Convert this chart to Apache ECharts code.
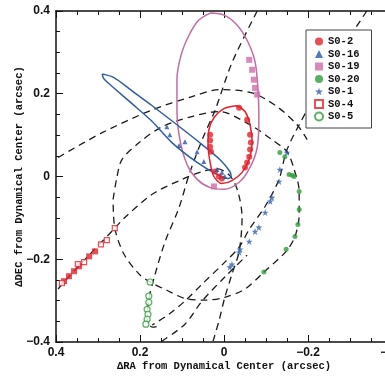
<!DOCTYPE html>
<html>
<head>
<meta charset="utf-8">
<script src="https://cdn.jsdelivr.net/npm/echarts/dist/echarts.min.js"></script>
<style>
  html, body { margin: 0; padding: 0; background: #fff; }
  #chart { width: 385px; height: 376px; }
</style>
</head>
<body>
<div id="chart"></div>
<script>
// 数据 => [ΔRA, ΔDEC] (arcsec)
// 观测点
const s02Points = [[-0.036, 0.166], [-0.055, 0.137], [-0.062, 0.101], [-0.064, 0.082], [-0.062, 0.065], [-0.060, 0.048], [-0.055, 0.034], [-0.050, 0.022], [0.033, 0.101], [0.033, 0.087], [0.033, 0.072], [0.031, 0.060], [0.021, 0.012], [0.012, 0], [0.005, -0.005]]
const s016Points = [[0.136, 0.120], [0.129, 0.101], [0.107, 0.075], [0.093, 0.084], [0.064, 0.060], [0.048, 0.036], [0.017, 0.017], [0.005, 0.010], [-0.002, 0]]
const s019Points = [[-0.060, 0.282], [-0.067, 0.258], [-0.071, 0.234], [-0.074, 0.214], [-0.079, 0.198], [0.024, -0.024]]
const s020Points = [[-0.133, 0.058], [-0.145, 0.048], [-0.155, 0.005], [-0.162, 0.003], [-0.167, 0], [-0.179, -0.036], [-0.179, -0.080], [-0.176, -0.116], [-0.169, -0.145], [-0.148, -0.176], [-0.095, -0.231]]
const s01Points = [[-0.150, 0.058], [-0.133, 0.017], [-0.131, -0.012], [-0.114, -0.051], [-0.110, -0.060], [-0.098, -0.087], [-0.083, -0.123], [-0.074, -0.133], [-0.060, -0.157], [-0.038, -0.176], [-0.036, -0.183], [-0.019, -0.212], [-0.014, -0.219]]
const s04Points = [[0.260, -0.125], [0.279, -0.154], [0.293, -0.164], [0.333, -0.207], [0.348, -0.212], [0.386, -0.258]]
const s04EarlyPoints = [[0.307, -0.181], [0.321, -0.193], [0.345, -0.217], [0.357, -0.229], [0.369, -0.241], [0.381, -0.253]]
const s05Points = [[0.176, -0.255], [0.179, -0.289], [0.179, -0.304], [0.183, -0.321], [0.181, -0.333], [0.183, -0.345], [0.186, -0.357]]

// 轨道 (实线)
const s02Orbit = [[-0.031, 0.171], [-0.050, 0.157], [-0.062, 0.125], [-0.067, 0.082], [-0.060, 0.041], [-0.043, 0.010], [-0.019, -0.010], [0.005, -0.017], [0.024, 0], [0.033, 0.034], [0.038, 0.077], [0.036, 0.113], [0.024, 0.142], [0, 0.164], [-0.031, 0.171]]
const s016Orbit = [[0.290, 0.248], [0.262, 0.239], [0.219, 0.207], [0.171, 0.171], [0.112, 0.125], [0.052, 0.077], [0.010, 0.041], [-0.014, 0.012], [-0.017, 0], [-0.010, -0.005], [0.017, 0.005], [0.064, 0.034], [0.124, 0.082], [0.171, 0.133], [0.219, 0.176], [0.262, 0.214], [0.286, 0.236], [0.290, 0.248]]
const s019Orbit = [[0.033, 0.395], [0, 0.390], [-0.031, 0.366], [-0.057, 0.325], [-0.074, 0.277], [-0.081, 0.210], [-0.083, 0.137], [-0.079, 0.070], [-0.062, 0.022], [-0.036, -0.014], [0, -0.031], [0.033, -0.027], [0.064, -0.007], [0.088, 0.029], [0.105, 0.089], [0.112, 0.161], [0.112, 0.234], [0.102, 0.294], [0.083, 0.342], [0.060, 0.378], [0.033, 0.395]]

// 轨道 (虚线)
const dashCircle = [[0.264, -0.055], [0.255, -0.002], [0.243, 0.041], [0.202, 0.082], [0.148, 0.120], [0.076, 0.145], [0.012, 0.157], [-0.062, 0.125], [-0.114, 0.089], [-0.150, 0.060], [-0.167, 0.017], [-0.179, -0.036], [-0.179, -0.092], [-0.169, -0.145], [-0.148, -0.181], [-0.095, -0.231], [-0.050, -0.272], [-0.002, -0.292], [0.048, -0.299], [0.095, -0.294], [0.136, -0.275], [0.176, -0.255], [0.202, -0.236], [0.238, -0.188], [0.260, -0.125], [0.264, -0.055]]
const dashUpper = [[0.395, 0.046], [0.290, 0.106], [0.171, 0.161], [0.076, 0.193], [0.012, 0.210], [-0.067, 0.202], [-0.126, 0.169], [-0.174, 0.125], [-0.198, 0.089]]
const dashS05 = [[-0.079, 0.400], [-0.019, 0.275], [0.021, 0.161], [0.052, 0.089], [0.083, 0.005], [0.107, -0.075], [0.140, -0.157], [0.164, -0.236], [0.179, -0.296], [0.183, -0.345], [0.171, -0.364], [0.152, -0.361]]
const dashS01 = [[-0.340, 0.400], [-0.257, 0.270], [-0.198, 0.161], [-0.150, 0.065], [-0.131, -0.007], [-0.098, -0.072], [-0.060, -0.128], [-0.036, -0.171], [-0.002, -0.207], [0.052, -0.260], [0.093, -0.301], [0.131, -0.333], [0.171, -0.359]]
const dashS01b = [[0.148, -0.398], [0.093, -0.357], [0.052, -0.301], [-0.002, -0.243], [-0.055, -0.190]]
const dashS04 = [[0.395, -0.272], [0.381, -0.255], [0.326, -0.195], [0.260, -0.125], [0.236, -0.099], [0.171, -0.043], [0.100, -0.007], [0.052, 0.012], [0.017, 0.019], [-0.014, 0.002], [-0.033, -0.036], [-0.043, -0.099], [-0.036, -0.181], [-0.019, -0.236], [-0.002, -0.292], [0.012, -0.349], [0.026, -0.398]]

const legendNames = ['S0-2', 'S0-16', 'S0-19', 'S0-20', 'S0-1', 'S0-4', 'S0-5']
const starPath = 'path://M0,-1L0.2245,-0.309L0.951,-0.309L0.363,0.118L0.588,0.809L0,0.382L-0.588,0.809L-0.363,0.118L-0.951,-0.309L-0.2245,-0.309Z'

const fmt = v => {
  if (Math.abs(v) < 1e-9) return '0'
  return v < 0 ? '\u2212' + Math.abs(v).toFixed(1) : v.toFixed(1)
}

const solidLine = (data, color) => ({
  type: 'line', data, showSymbol: false, smooth: 0.3, silent: true, z: 2,
  lineStyle: { color, width: 1.5 }
})
const dashLine = (data) => ({
  type: 'line', data, showSymbol: false, smooth: 0.3, silent: true, z: 1,
  lineStyle: { color: '#1a1a1a', width: 1.3, type: [7, 5] }
})
const dots = (name, data, symbol, size, style) => ({
  name, type: 'scatter', data, symbol, symbolSize: size, z: 5, itemStyle: style
})

const axisFont = { fontFamily: 'Liberation Sans', fontWeight: 'bold', fontSize: 12, color: '#111' }
const nameFont = { fontFamily: 'Liberation Mono', fontWeight: 'bold', fontSize: 10.5, color: '#111' }

const baseAxis = {
  type: 'value', min: -0.4, max: 0.4, interval: 0.2,
  axisLine: { show: true, onZero: false, lineStyle: { color: '#111', width: 1.5 } },
  axisTick: { show: true, inside: true, length: 7, lineStyle: { color: '#111', width: 1 } },
  minorTick: { show: true, splitNumber: 4, length: 4, lineStyle: { color: '#111', width: 1 } },
  splitLine: { show: false },
  minorSplitLine: { show: false }
}

const myChart = echarts.init(document.querySelector('#chart'), null, { renderer: 'canvas' })
const option = {
  animation: false,
  backgroundColor: '#fff',
  grid: { left: 56, top: 11, width: 336, height: 331, containLabel: false, outerBoundsMode: 'none' },
  xAxis: [
    {
      ...baseAxis, inverse: true, position: 'bottom',
      axisLabel: { ...axisFont, margin: 5, formatter: fmt },
      name: '\u0394RA from Dynamical Center (arcsec)',
      nameLocation: 'middle', nameGap: 19, nameMoveOverlap: false, nameTextStyle: nameFont
    },
    { ...baseAxis, inverse: true, position: 'top', axisLabel: { show: false } }
  ],
  yAxis: [
    {
      ...baseAxis, position: 'left',
      axisLabel: { ...axisFont, margin: 6, formatter: fmt },
      name: '\u0394DEC from Dynamical Center (arcsec)',
      nameLocation: 'middle', nameGap: 31, nameMoveOverlap: false, nameTextStyle: nameFont
    },
    { ...baseAxis, position: 'right', axisLabel: { show: false } }
  ],
  legend: {
    data: legendNames,
    orient: 'vertical', left: 306, top: 30,
    padding: [6, 12, 6, 8],
    backgroundColor: '#fff', borderColor: '#444', borderWidth: 1,
    itemWidth: 8, itemHeight: 8, itemGap: 1.5,
    textStyle: { fontFamily: 'Liberation Mono', fontWeight: 'bold', fontSize: 10.5, lineHeight: 11, color: '#111' }
  },
  series: [
    dashLine(dashCircle),
    dashLine(dashUpper),
    dashLine(dashS05),
    dashLine(dashS01),
    dashLine(dashS01b),
    dashLine(dashS04),
    solidLine(s019Orbit, '#c26ca3'),
    solidLine(s016Orbit, '#2f5ea8'),
    solidLine(s02Orbit, '#e3202b'),
    dots('S0-2', s02Points, 'circle', 6, { color: '#e3202b' }),
    dots('S0-16', s016Points, 'triangle', 5, { color: '#2a58a6' }),
    dots('S0-19', s019Points, 'rect', 6, { color: '#d06aaa' }),
    dots('S0-20', s020Points, 'circle', 5, { color: '#2e9e3a' }),
    dots('S0-1', s01Points, starPath, 7, { color: '#2f5ea8' }),
    dots('S0-4 early', s04EarlyPoints, 'rect', 6, { color: '#e3202b' }),
    dots('S0-4', s04Points, 'rect', 5, { color: '#fff', borderColor: '#e3202b', borderWidth: 1.2 }),
    dots('S0-5', s05Points, 'circle', 6, { color: '#fff', borderColor: '#2e9e3a', borderWidth: 1.2 })
  ]
}
myChart.setOption(option)
</script>
</body>
</html>
